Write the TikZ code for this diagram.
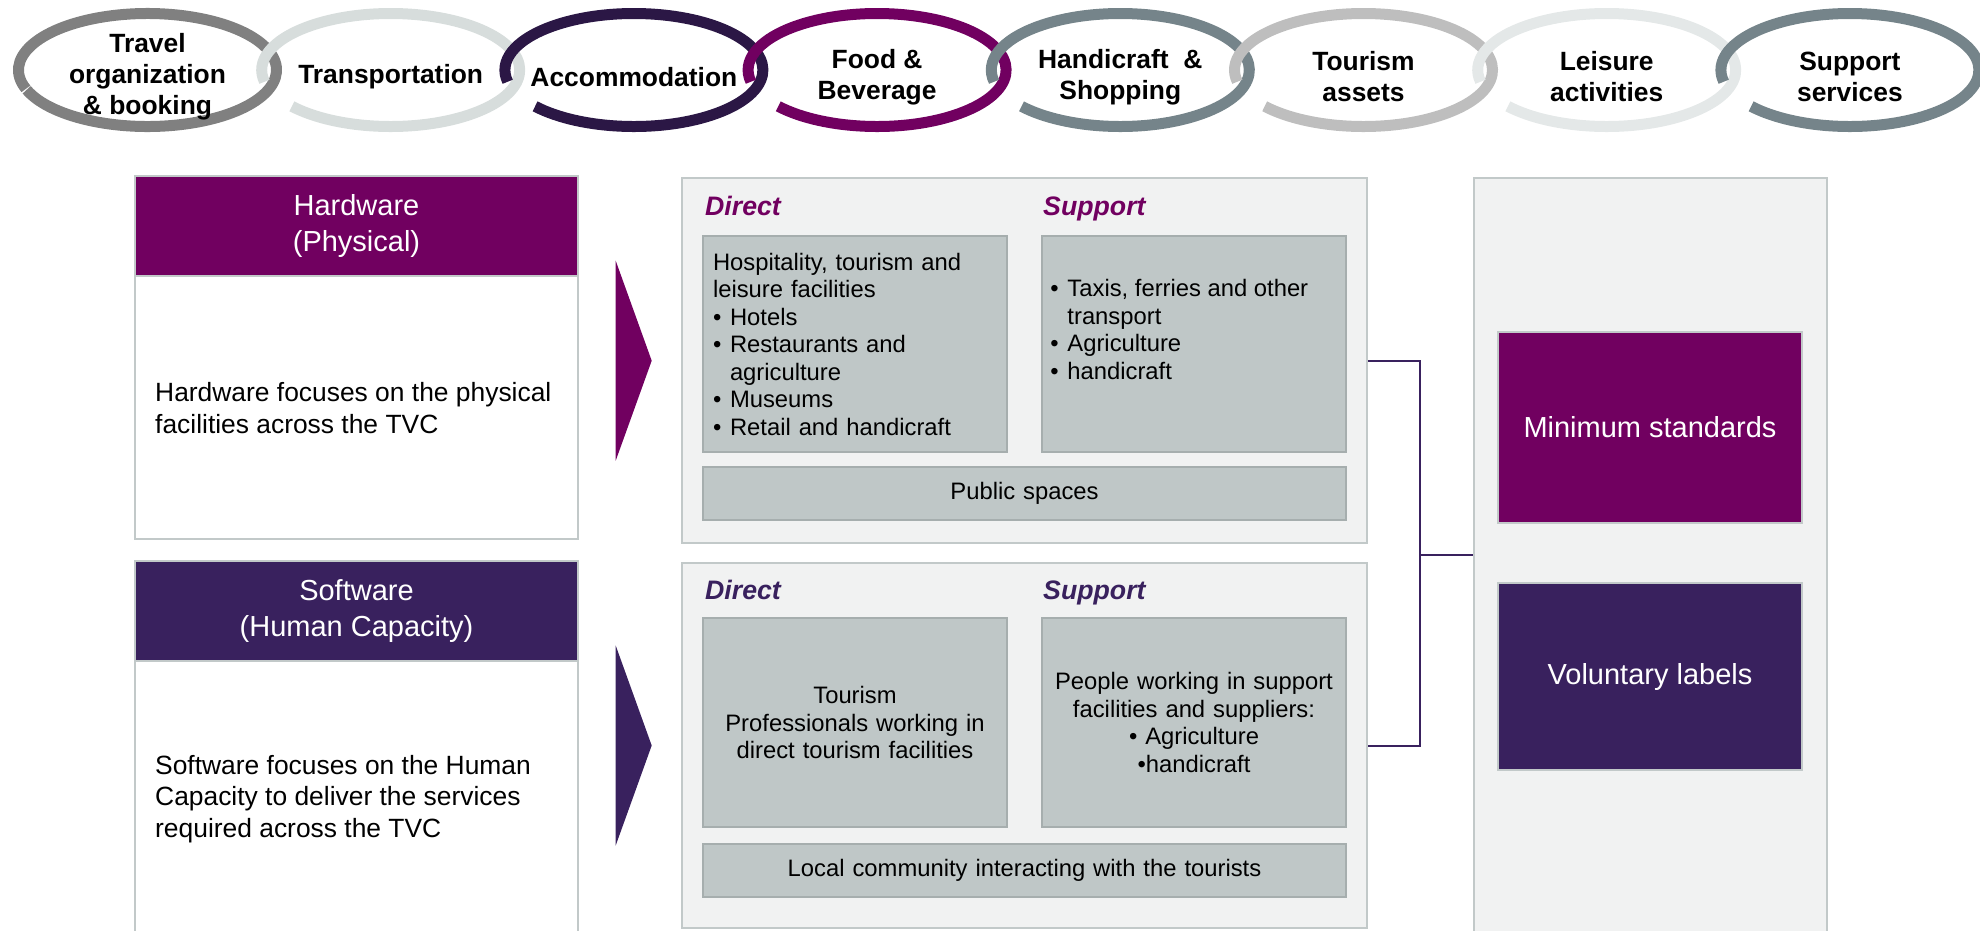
\documentclass[tikz,border=0pt]{standalone}
\usepackage{fontspec}
\setmainfont{Liberation Sans}
\usetikzlibrary{positioning}

\definecolor{tvcplum}{RGB}{113,0,96}
\definecolor{tvcindigo}{RGB}{57,33,94}
\definecolor{tvcnight}{RGB}{43,23,69}
\definecolor{tvcslate}{RGB}{117,132,138}
\definecolor{tvcgrey}{RGB}{128,128,128}
\definecolor{tvcsilver}{RGB}{190,190,190}
\definecolor{tvcmist}{RGB}{215,221,220}
\definecolor{tvcfog}{RGB}{228,232,232}
\definecolor{panelfill}{RGB}{241,242,242}
\definecolor{panelline}{RGB}{194,201,201}
\definecolor{cellfill}{RGB}{191,199,199}
\definecolor{cellline}{RGB}{166,174,174}

\newcommand{\itm}{\makebox[17pt][l]{\textbullet}}

\tikzset{
	ring/.style={line width=11pt},
	ringtext/.style={align=center, inner sep=0pt, font=\bfseries\fontsize{26.4}{31}\selectfont},
	sidebox/.style={draw=panelline, line width=1.5pt, fill=white, minimum width=443pt},
	sidehead/.style={draw=panelline, line width=1.5pt, minimum width=443pt, minimum height=100pt, text=white, align=center, font=\fontsize{29}{36.6}\selectfont},
	sidetext/.style={align=left, inner sep=0pt, font=\fontsize{26.4}{31.6}\selectfont},
	panel/.style={draw=panelline, line width=1.5pt, fill=panelfill, minimum width=685pt, minimum height=365pt},
	cell/.style={draw=cellline, line width=1.5pt, fill=cellfill, minimum width=304pt, inner xsep=10pt, text width=284pt, font=\fontsize{23.8}{27.5}\selectfont},
	celltext/.style={align=left, inner sep=0pt, font=\fontsize{23.8}{27.5}\selectfont},
	wide/.style={cell, minimum width=643pt, text width=623pt, minimum height=53pt, align=center},
	tag/.style={anchor=base west, inner sep=0pt, font=\bfseries\itshape\fontsize{26.7}{32}\selectfont},
	badge/.style={draw=panelline, line width=1.5pt, minimum width=304pt, text=white, font=\fontsize{29}{35}\selectfont},
	link/.style={draw=tvcindigo, line width=2pt},
}

\begin{document}
\begin{tikzpicture}[x=1pt, y=1pt]
	\useasboundingbox (0,0) rectangle (1980,-930);

	% chain of value-chain rings, each one open where the previous ring passes
	\foreach \x/\col/\from/\to/\txt [count=\i] in {
		147.5/tvcgrey/200.5/559.5/{Travel\\organization\\\& booking},
		390.7/tvcmist/220/552/{Transportation},
		633.9/tvcnight/220/552/{Accommodation},
		877.1/tvcplum/220/552/{Food \&\\Beverage},
		1120.3/tvcslate/220/552/{Handicraft\ \ \&\\Shopping},
		1363.5/tvcsilver/220/552/{Tourism\\assets},
		1606.7/tvcfog/220/552/{Leisure\\activities},
		1849.9/tvcslate/220/552/{Support\\services}}
	{
		\draw[ring, draw=\col] (\x,-70) ++(\from:129 and 56.5) arc[start angle=\from, end angle=\to, x radius=129, y radius=56.5];
		\node[ringtext] (ring\i) at (\x,-77) {\txt};
	}

	% hardware / software columns
	\node[sidebox, minimum height=363pt] (hwbox) at (356.5,-357.5) {};
	\node[sidehead, fill=tvcplum, anchor=north] (hwhead) at (hwbox.north) {Hardware\\(Physical)};
	\node[sidetext, anchor=west] (hwtext) at (155,-408) {Hardware focuses on the physical\\facilities across the TVC};

	\node[sidebox, minimum height=379pt] (swbox) at (356.5,-750.5) {};
	\node[sidehead, fill=tvcindigo, anchor=north] (swhead) at (swbox.north) {Software\\(Human Capacity)};
	\node[sidetext, anchor=west] (swtext) at (155,-799) {Software focuses on the Human\\Capacity to deliver the services\\required across the TVC};

	\fill[tvcplum] (615.7,-260.7) -- (651.7,-360.7) -- (615.7,-460.7) -- cycle;
	\fill[tvcindigo] (615.7,-645.5) -- (651.7,-745.5) -- (615.7,-845.5) -- cycle;

	% physical facilities
	\node[panel] (hwpanel) at (1024.5,-360.5) {};
	\node[tag, text=tvcplum] (hwdirtag) at (705,-215.5) {Direct};
	\node[tag, text=tvcplum] (hwsuptag) at (1043,-215.5) {Support};
	\node[cell, minimum height=216pt, align=left] (hwdirect) at (855,-344) {Hospitality, tourism and\\leisure facilities\\\itm Hotels\\\itm Restaurants and\\\hspace*{17pt}agriculture\\\itm Museums\\\itm Retail and handicraft};
	\node[cell, minimum height=216pt] (hwsupport) at (1194,-344) {};
	\node[celltext, anchor=north west] (hwsuplist) at ([xshift=9pt, yshift=-44pt]hwsupport.north west) {\itm Taxis, ferries and other\\\hspace*{17pt}transport\\\itm Agriculture\\\itm handicraft};
	\node[wide] (hwpublic) at (1024.5,-493.5) {Public spaces};

	% human capacity
	\node[panel] (swpanel) at (1024.5,-745.5) {};
	\node[tag, text=tvcindigo] (swdirtag) at (705,-599.5) {Direct};
	\node[tag, text=tvcindigo] (swsuptag) at (1043,-599.5) {Support};
	\node[cell, minimum height=209pt, align=center] (swdirect) at (855,-722.5) {Tourism\\Professionals working in\\direct tourism facilities};
	\node[cell, minimum height=209pt, align=center] (swsupport) at (1194,-722.5) {People working in support\\facilities and suppliers:\\\textbullet{} Agriculture\\\textbullet handicraft};
	\node[wide] (swlocal) at (1024.5,-870.5) {Local community interacting with the tourists};

	% standards column
	\node[panel, minimum width=353pt, minimum height=754pt] (stdpanel) at (1650.5,-555) {};
	\node[badge, fill=tvcplum, minimum height=191pt] (minstd) at (1650,-427.5) {Minimum standards};
	\node[badge, fill=tvcindigo, minimum height=187pt] (vollab) at (1650,-676.5) {Voluntary labels};

	\coordinate (joint) at (1420,-555);
	\draw[link] (hwpanel.east) -| (joint) |- (swpanel.east);
	\draw[link] (joint) -- (stdpanel.west);
\end{tikzpicture}
\end{document}
